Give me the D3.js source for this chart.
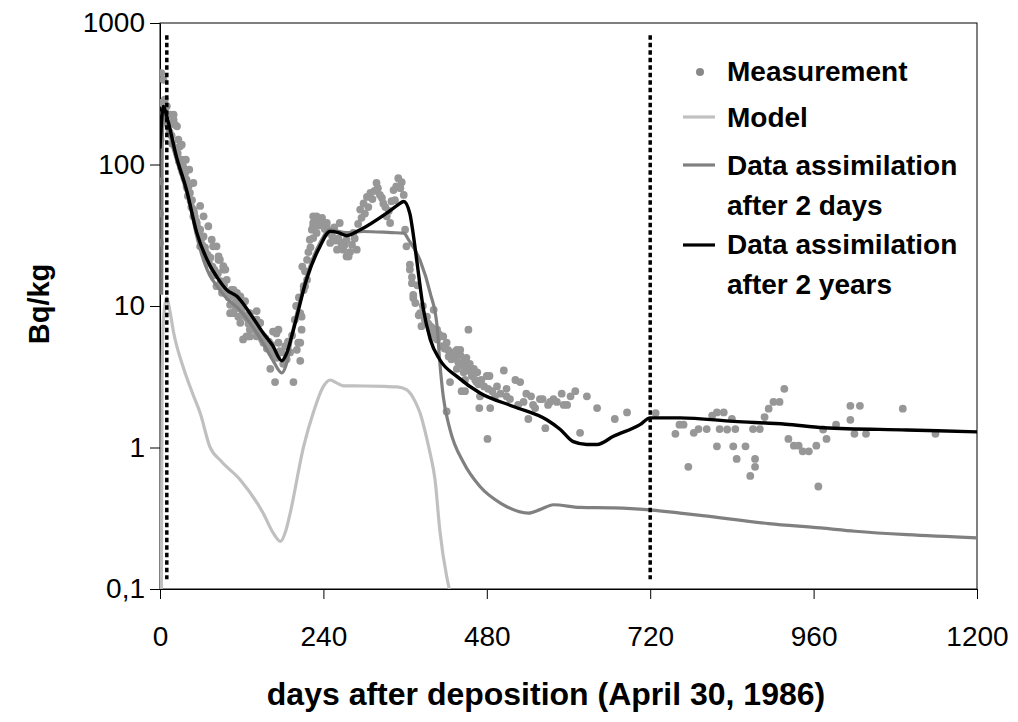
<!DOCTYPE html>
<html>
<head>
<meta charset="utf-8">
<script src="https://cdn.jsdelivr.net/npm/d3@7"></script>
<style>
  body { margin: 0; background: #fff; }
  text { font-family: "Liberation Sans", Arial, sans-serif; }
</style>
</head>
<body>
<div id="chart"></div>
<script>
// tick values / labels
var xTicks = [0, 240, 480, 720, 960, 1200];
var yTicks = [0.1, 1, 10, 100, 1000];
var yTickLabels = ["0,1", "1", "10", "100", "1000"];

// vertical dotted markers (days) and their vertical span (Bq/kg)
var markerDays = [10, 720];
var markerSpan = [0.117, 820];

// measurements [day, Bq/kg]
var measurement = [
  [2,443],[5,397],[0,273],[7,287],[10,258],[15,225],[20,207],[22,191],[27,150],[29,134],
  [34,97],[37,87],[39,78],[42,70],[44,63],[47,56],[49,48],[51,43],[54,38.6],[59,34.6],
  [64,31],[83,26.4],[86,21.2],[93,18.1],[98,15.3],[105,13],[113,12.4],[118,11.1],[122,10.5],
  [132,8.9],[142,9.2],[147,7.6],[127,6.1],[108,8.9],[103,10.2],[169,6.6],[174,6.8],[164,5.3],
  [0,76],[0,27.9],[1,150],[0,45],
  [32,108],[39,70],[49,43],[59,26.4],[69,21.2],[78,17.1],[83,13.8],[91,12.4],[103,8.9],
  [118,7.6],[132,6.8],[142,6.1],[152,5.5],[162,4.9],
  [20,225],[25,186],[32,138],[38,108],[43,92],[49,74],[59,51],[64,43],[71,36.6],[76,29.4],
  [86,22.4],[93,19.1],[108,13],[113,11.7],[125,10.8],
  [6,230],[8,200],[12,190],[14,170],[17,160],[18,140],[23,130],[26,120],[28,105],[31,95],
  [33,88],[36,80],[40,68],[41,60],[45,55],[46,50],[50,46],[53,40],[55,36],[57,33],[61,30],
  [62,27],[66,26],[67,24],[70,23],[72,20],[74,22],[77,19],[80,18],[81,16.5],[85,17],[89,15],
  [90,14],[94,14],[95,12.8],[100,12.5],[101,11.5],[106,11.8],[110,10.5],[111,9.6],[116,10],
  [120,9.5],[121,8.8],[124,8.5],[128,8.2],[130,7.5],[135,7.8],[137,7],[140,7.2],[145,6.5],
  [149,6.3],[150,5.8],[155,5.9],[157,5.0],[160,5.6],[167,4.6],[172,4.3],[176,4.8],[181,3.9],
  [88,21.2],[96,18.1],[78,26.4],[105,8.9],[118,11.7],[115,8.4],[122,5.8],[132,6.1],[142,8.0],
  [147,7.6],[142,6.6],[152,6.1],[154,5.5],[159,5.2],[164,4.7],[162,3.6],[169,2.9],[196,2.9],
  [166,6.6],[171,6.4],[174,5.5],[179,4.7],[184,5.2],[186,4.2],[191,4.7],[201,4.9],[203,5.5],
  [208,6.8],[206,4.1],[211,13],[213,13.8],[216,21.2],[220,29.4],[223,34.6],[225,38.6],
  [230,43],[235,41],[240,38.6],[245,36],[225,30.2],[230,32.8],[250,27.9],[264,38.6],[269,25],
  [274,22.4],[213,17.6],[216,15.3],[208,8.4],
  [188,5.6],[194,6.2],[198,8],[200,10],[204,11.5],[209,19],[218,24],[221,26],[228,40],
  [233,37],[238,42],[242,35],[248,33],[253,31],[256,36],[258,29],[262,30],[266,28],[271,27],
  [279,24],[282,27],[286,30],[291,38],[296,42],[301,45],[306,50],[312,57],[315,65],[320,68],
  [326,58],[331,50],[336,47],[340,55],[347,70],[355,75],
  [225,43],[245,38.6],[225,36.6],[274,29.4],[267,26.4],[277,22.4],[284,32.8],[294,48],
  [299,53],[304,59],[309,63],[318,74],[323,61],[328,53],[333,43],[338,38.6],[343,66],[350,80],
  [353,68],[358,61],[345,56],[360,34.6],[362,26.4],[367,19.6],[370,16],[372,12],[375,10.5],
  [380,8.6],[384,7.2],[392,8.4],[399,6.4],[407,5.8],[416,6.1],[211,13.8],[206,8.9],[206,5.5],
  [289,25],[260,25],
  [367,18.1],[370,14.5],[372,11.4],[382,8.9],[402,9.4],[397,7.2],[407,6.8],[421,5.5],
  [426,4.7],[436,4.9],[441,4.5],[446,4.0],[453,6.8],[451,3.5],[458,3.2],[465,2.9],[426,2.9],
  [448,3.0],[470,2.3],
  [378,14],[386,10],[389,8],[394,7.5],[400,7],[404,6],[410,6.3],[413,5.2],[418,5],[423,4.9],
  [428,4.2],[433,4.3],[438,4.0],[443,3.8],[450,4.3],[455,3.9],[461,3.6],[466,3.4],[472,3.0],
  [476,2.7],[482,2.6],[488,2.5],[495,2.7],[500,2.4],[514,2.2],[526,2.0],[538,2.4],[545,2.3],
  [548,2.0],[562,2.2],[570,2.0],[583,2.1],[603,2.3],
  [448,2.5],[469,1.9],[481,1.15],[485,1.9],[484,3.2],[505,3.5],[509,2.6],[522,3.0],[529,2.9],
  [541,1.59],[551,1.9],[558,2.2],[566,1.37],[578,2.2],[590,2.4],[598,2.0],[610,2.5],[617,1.27],
  [627,2.3],[642,1.9],[668,1.59],[686,1.77],[421,1.8],[492,2.3],[509,2.3],[534,2.1],[573,2.1],
  [593,2.0],[443,2.5],[480,3.2],
  [424,4.4],[431,4.7],[441,4.9],[448,4.2],[453,3.7],[458,3.4],[463,3.0],[468,2.8],[436,3.6],
  [446,3.4],
  [728,1.75],[757,1.25],[763,1.45],[769,1.45],[776,0.73],[784,1.27],[791,1.35],[803,1.35],
  [811,1.68],[818,1.77],[828,1.77],[840,1.59],[822,1.35],[833,1.34],[845,1.35],[818,1.02],
  [842,1.02],[847,0.83],[860,1.02],[874,0.83],[874,0.73],[867,0.63],[871,1.35],[881,1.35],
  [888,1.64],[894,1.88],[901,2.1],[910,2.1],[917,2.6],[923,1.15],[931,1.03],[938,1.03],
  [944,0.94],[953,0.94],[964,1.03],[967,0.53],[974,1.34],[979,1.15],[993,1.45],[1014,1.97],
  [1014,1.57],[1020,1.25],[1028,1.97],[1037,1.25],[1091,1.88],[1139,1.25]
];

// model run without assimilation
var model = [
  [2,0.1],[3,3],[5,8],[10,11.4],[14,9.5],[20,6.5],[34,3.7],[48,2.4],[59,1.75],[73,1.02],
  [90,0.8],[118,0.59],[152,0.34],[166,0.25],[177,0.217],[185,0.26],[191,0.34],[211,1.02],
  [225,1.75],[240,2.7],[250,3.0],[260,2.85],[269,2.73],[300,2.72],[330,2.7],[348,2.68],
  [362,2.56],[375,2.1],[382,1.75],[392,1.15],[397,0.9],[404,0.59],[411,0.26],[421,0.123],[425,0.1]
];

// data assimilation after 2 days
var assim2days = [
  [2.5,12],[3,100],[4,200],[5,243],[10,200],[20,127],[44,52],[54,31],[73,16.5],[83,14],
  [98,11.3],[113,9.8],[132,7.6],[152,5.4],[165,4.2],[179,3.36],[185,3.8],[196,7],[215,16],[235,28],
  [250,34.5],[274,33],[299,33.6],[340,33],[358,32.7],[365,29.4],[382,21],[397,12.3],[407,7.2],
  [411,4.0],[416,2.3],[426,1.34],[446,0.78],[470,0.53],[500,0.405],[541,0.344],[558,0.364],
  [578,0.394],[617,0.377],[666,0.374],[715,0.364],[764,0.344],[797,0.33],[894,0.29],[970,0.27],
  [1021,0.256],[1097,0.242],[1200,0.23]
];

// data assimilation after 2 years
var assim2years = [
  [0,130],[5,257],[10,218],[24,114],[39,66],[54,33],[73,19.5],[83,16.2],[98,13],[113,11.7],
  [132,8.9],[152,6.4],[165,5.3],[179,4.1],[185,4.5],[196,6.8],[215,15.3],[235,26.4],[250,33.7],
  [262,33],[274,31.4],[294,34.6],[333,45.4],[350,52],[358,54.8],[367,45],[372,32],[377,21.2],
  [387,9.4],[397,5.8],[411,4.17],[436,3.18],[470,2.43],[519,1.95],[568,1.57],[588,1.34],
  [607,1.10],[627,1.05],[642,1.05],[666,1.2],[705,1.45],[720,1.62],[764,1.62],[843,1.53],
  [919,1.46],[975,1.38],[1097,1.33],[1200,1.29]
];

var legendLabels = ["Measurement", "Model", "Data assimilation", "after 2 days", "Data assimilation", "after 2 years"];

// set dimensions margins of graph
var margin = {top: 23, right: 41, bottom: 133, left: 160},
    width = 1018 - margin.left - margin.right,
    height = 722 - margin.top - margin.bottom;

var svgRoot = d3.select("#chart")
  .append("svg")
    .attr("width", 1018)
    .attr("height", 722);

var svg = svgRoot.append("g")
    .attr("transform", "translate(" + margin.left + "," + margin.top + ")");

var x = d3.scaleLinear().domain([0, 1200]).range([0, width]);
var y = d3.scaleLog().domain([0.1, 1000]).range([height, 0]);

svg.append("clipPath").attr("id", "plot-clip")
  .append("rect").attr("width", width).attr("height", height);

// plot frame
svg.append("rect")
  .attr("width", width).attr("height", height)
  .attr("fill", "none").attr("stroke", "#000").attr("stroke-width", 1);

// Y axis
var yAxis = svg.append("g")
  .call(d3.axisLeft(y).tickValues(yTicks)
    .tickFormat(function(d, i) { return yTickLabels[i]; })
    .tickSize(10).tickSizeOuter(0).tickPadding(5));
yAxis.selectAll("text").attr("font-size", 28).attr("fill", "#000")
  .style("font-family", '"Liberation Sans", Arial, sans-serif');

// X axis
var xAxis = svg.append("g")
  .attr("transform", "translate(0," + height + ")")
  .call(d3.axisBottom(x).tickValues(xTicks)
    .tickFormat(function(d) { return String(d); })
    .tickSize(10).tickSizeOuter(0).tickPadding(27));
xAxis.selectAll("text").attr("font-size", 28).attr("fill", "#000")
  .style("font-family", '"Liberation Sans", Arial, sans-serif');

var plot = svg.append("g").attr("clip-path", "url(#plot-clip)");

// measurements
plot.selectAll("circle.meas")
  .data(measurement)
  .enter().append("circle")
    .attr("class", "meas")
    .attr("cx", function(d) { return x(d[0]); })
    .attr("cy", function(d) { return y(d[1]); })
    .attr("r", 3.9)
    .attr("fill", "#979797");

var line = d3.line()
  .x(function(d) { return x(d[0]); })
  .y(function(d) { return y(d[1]); })
  .curve(d3.curveMonotoneX);

plot.append("path").datum(model)
  .attr("fill", "none").attr("stroke", "#c0c0c0").attr("stroke-width", 3.2)
  .attr("d", line);

plot.append("path").datum(assim2days)
  .attr("fill", "none").attr("stroke", "#808080").attr("stroke-width", 3.2)
  .attr("d", line);

plot.append("path").datum(assim2years)
  .attr("fill", "none").attr("stroke", "#000").attr("stroke-width", 3.4)
  .attr("d", line);

// dotted markers
svg.selectAll("line.marker")
  .data(markerDays)
  .enter().append("line")
    .attr("x1", function(d) { return x(d); })
    .attr("x2", function(d) { return x(d); })
    .attr("y1", y(markerSpan[1]))
    .attr("y2", y(markerSpan[0]))
    .attr("stroke", "#000").attr("stroke-width", 3.5)
    .attr("stroke-dasharray", "4.5,3");

// legend
var legend = svgRoot.append("g").attr("font-weight", "bold").attr("font-size", 28);
legend.append("circle").attr("cx", 700).attr("cy", 72).attr("r", 4).attr("fill", "#888");
var legendLines = [[117, "#c0c0c0"], [165, "#808080"], [245, "#000"]];
legendLines.forEach(function(l) {
  legend.append("line").attr("x1", 683).attr("x2", 715).attr("y1", l[0]).attr("y2", l[0])
    .attr("stroke", l[1]).attr("stroke-width", 3.2);
});
var legendY = [81, 127, 175, 215, 254, 294];
legendLabels.forEach(function(t, i) {
  legend.append("text").attr("x", 727).attr("y", legendY[i]).text(t);
});

// axis titles
svgRoot.append("text")
  .attr("x", 546).attr("y", 705)
  .attr("text-anchor", "middle").attr("font-weight", "bold").attr("font-size", 32)
  .text("days after deposition (April 30, 1986)");

svgRoot.append("text")
  .attr("transform", "translate(49,304) rotate(-90)")
  .attr("text-anchor", "middle").attr("font-weight", "bold").attr("font-size", 29)
  .text("Bq/kg");
</script>
</body>
</html>
